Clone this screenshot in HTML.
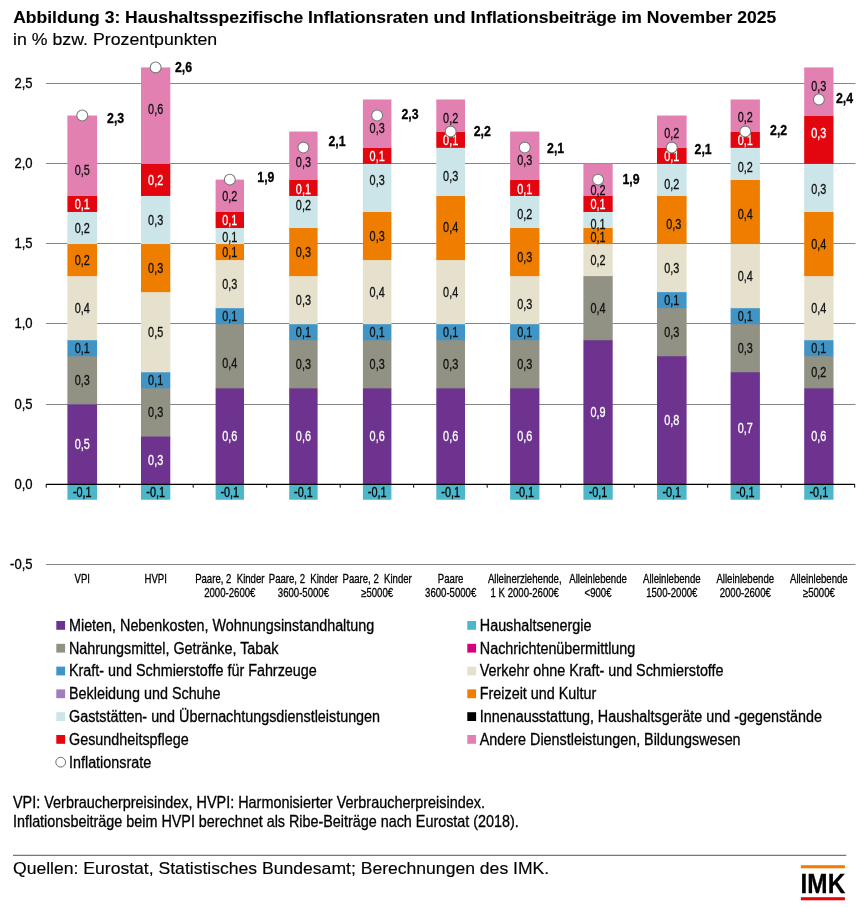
<!DOCTYPE html>
<html lang="de"><head><meta charset="utf-8"><title>Abbildung 3</title>
<style>html,body{margin:0;padding:0;background:#fff}svg{display:block}</style></head>
<body>
<svg width="859" height="907" viewBox="0 0 859 907" font-family="'Liberation Sans', sans-serif">
<rect width="859" height="907" fill="#fff"/>
<text transform="translate(13.20,23.30) scale(1.096,1)" font-size="16" text-anchor="start" font-weight="bold" fill="#000" stroke="#000" stroke-width="0.1">Abbildung 3: Haushaltsspezifische Inflationsraten und Inflationsbeiträge im November 2025</text>
<text transform="translate(13.00,44.60) scale(1.11,1)" font-size="16" text-anchor="start" font-weight="normal" fill="#000" stroke="#000" stroke-width="0.15">in % bzw. Prozentpunkten</text>
<line x1="46" x2="855.5" y1="83.5" y2="83.5" stroke="#868686" stroke-width="1"/>
<line x1="46" x2="855.5" y1="163.5" y2="163.5" stroke="#868686" stroke-width="1"/>
<line x1="46" x2="855.5" y1="243.5" y2="243.5" stroke="#868686" stroke-width="1"/>
<line x1="46" x2="855.5" y1="323.5" y2="323.5" stroke="#868686" stroke-width="1"/>
<line x1="46" x2="855.5" y1="404.5" y2="404.5" stroke="#868686" stroke-width="1"/>
<line x1="46" x2="855.5" y1="564.5" y2="564.5" stroke="#868686" stroke-width="1"/>
<text transform="translate(32.60,87.95) scale(0.92,1)" font-size="14.2" text-anchor="end" font-weight="normal" fill="#000" stroke="#000" stroke-width="0.3">2,5</text>
<text transform="translate(32.60,168.10) scale(0.92,1)" font-size="14.2" text-anchor="end" font-weight="normal" fill="#000" stroke="#000" stroke-width="0.3">2,0</text>
<text transform="translate(32.60,248.25) scale(0.92,1)" font-size="14.2" text-anchor="end" font-weight="normal" fill="#000" stroke="#000" stroke-width="0.3">1,5</text>
<text transform="translate(32.60,328.40) scale(0.92,1)" font-size="14.2" text-anchor="end" font-weight="normal" fill="#000" stroke="#000" stroke-width="0.3">1,0</text>
<text transform="translate(32.60,408.55) scale(0.92,1)" font-size="14.2" text-anchor="end" font-weight="normal" fill="#000" stroke="#000" stroke-width="0.3">0,5</text>
<text transform="translate(32.60,488.70) scale(0.92,1)" font-size="14.2" text-anchor="end" font-weight="normal" fill="#000" stroke="#000" stroke-width="0.3">0,0</text>
<text transform="translate(32.60,568.85) scale(0.92,1)" font-size="14.2" text-anchor="end" font-weight="normal" fill="#000" stroke="#000" stroke-width="0.3">-0,5</text>
<rect x="67.40" y="484.20" width="29.69999999999999" height="15.53" fill="#4cb7cb"/>
<rect x="67.40" y="404.05" width="29.69999999999999" height="80.45" fill="#6d338f"/>
<rect x="67.40" y="355.96" width="29.69999999999999" height="48.39" fill="#919284"/>
<rect x="67.40" y="339.93" width="29.69999999999999" height="16.33" fill="#4095c6"/>
<rect x="67.40" y="275.81" width="29.69999999999999" height="64.42" fill="#e6e1cd"/>
<rect x="67.40" y="243.75" width="29.69999999999999" height="32.36" fill="#ef7d00"/>
<rect x="67.40" y="211.69" width="29.69999999999999" height="32.36" fill="#cbe5e8"/>
<rect x="67.40" y="195.66" width="29.69999999999999" height="16.33" fill="#e4060f"/>
<rect x="67.40" y="115.51" width="29.69999999999999" height="80.45" fill="#e380b2"/>
<rect x="141.00" y="484.20" width="29.30000000000001" height="15.53" fill="#4cb7cb"/>
<rect x="141.00" y="436.11" width="29.30000000000001" height="48.39" fill="#6d338f"/>
<rect x="141.00" y="388.02" width="29.30000000000001" height="48.39" fill="#919284"/>
<rect x="141.00" y="371.99" width="29.30000000000001" height="16.33" fill="#4095c6"/>
<rect x="141.00" y="291.84" width="29.30000000000001" height="80.45" fill="#e6e1cd"/>
<rect x="141.00" y="243.75" width="29.30000000000001" height="48.39" fill="#ef7d00"/>
<rect x="141.00" y="195.66" width="29.30000000000001" height="48.39" fill="#cbe5e8"/>
<rect x="141.00" y="163.60" width="29.30000000000001" height="32.36" fill="#e4060f"/>
<rect x="141.00" y="67.42" width="29.30000000000001" height="96.48" fill="#e380b2"/>
<rect x="215.60" y="484.20" width="28.400000000000006" height="15.53" fill="#4cb7cb"/>
<rect x="215.60" y="388.02" width="28.400000000000006" height="96.48" fill="#6d338f"/>
<rect x="215.60" y="323.90" width="28.400000000000006" height="64.42" fill="#919284"/>
<rect x="215.60" y="307.87" width="28.400000000000006" height="16.33" fill="#4095c6"/>
<rect x="215.60" y="259.78" width="28.400000000000006" height="48.39" fill="#e6e1cd"/>
<rect x="215.60" y="243.75" width="28.400000000000006" height="16.33" fill="#ef7d00"/>
<rect x="215.60" y="227.72" width="28.400000000000006" height="16.33" fill="#cbe5e8"/>
<rect x="215.60" y="211.69" width="28.400000000000006" height="16.33" fill="#e4060f"/>
<rect x="215.60" y="179.63" width="28.400000000000006" height="32.36" fill="#e380b2"/>
<rect x="289.20" y="484.20" width="28.400000000000034" height="15.53" fill="#4cb7cb"/>
<rect x="289.20" y="388.02" width="28.400000000000034" height="96.48" fill="#6d338f"/>
<rect x="289.20" y="339.93" width="28.400000000000034" height="48.39" fill="#919284"/>
<rect x="289.20" y="323.90" width="28.400000000000034" height="16.33" fill="#4095c6"/>
<rect x="289.20" y="275.81" width="28.400000000000034" height="48.39" fill="#e6e1cd"/>
<rect x="289.20" y="227.72" width="28.400000000000034" height="48.39" fill="#ef7d00"/>
<rect x="289.20" y="195.66" width="28.400000000000034" height="32.36" fill="#cbe5e8"/>
<rect x="289.20" y="179.63" width="28.400000000000034" height="16.33" fill="#e4060f"/>
<rect x="289.20" y="131.54" width="28.400000000000034" height="48.39" fill="#e380b2"/>
<rect x="362.90" y="484.20" width="28.5" height="15.53" fill="#4cb7cb"/>
<rect x="362.90" y="388.02" width="28.5" height="96.48" fill="#6d338f"/>
<rect x="362.90" y="339.93" width="28.5" height="48.39" fill="#919284"/>
<rect x="362.90" y="323.90" width="28.5" height="16.33" fill="#4095c6"/>
<rect x="362.90" y="259.78" width="28.5" height="64.42" fill="#e6e1cd"/>
<rect x="362.90" y="211.69" width="28.5" height="48.39" fill="#ef7d00"/>
<rect x="362.90" y="163.60" width="28.5" height="48.39" fill="#cbe5e8"/>
<rect x="362.90" y="147.57" width="28.5" height="16.33" fill="#e4060f"/>
<rect x="362.90" y="99.48" width="28.5" height="48.39" fill="#e380b2"/>
<rect x="436.30" y="484.20" width="28.69999999999999" height="15.53" fill="#4cb7cb"/>
<rect x="436.30" y="388.02" width="28.69999999999999" height="96.48" fill="#6d338f"/>
<rect x="436.30" y="339.93" width="28.69999999999999" height="48.39" fill="#919284"/>
<rect x="436.30" y="323.90" width="28.69999999999999" height="16.33" fill="#4095c6"/>
<rect x="436.30" y="259.78" width="28.69999999999999" height="64.42" fill="#e6e1cd"/>
<rect x="436.30" y="195.66" width="28.69999999999999" height="64.42" fill="#ef7d00"/>
<rect x="436.30" y="147.57" width="28.69999999999999" height="48.39" fill="#cbe5e8"/>
<rect x="436.30" y="131.54" width="28.69999999999999" height="16.33" fill="#e4060f"/>
<rect x="436.30" y="99.48" width="28.69999999999999" height="32.36" fill="#e380b2"/>
<rect x="510.10" y="484.20" width="29.299999999999955" height="15.53" fill="#4cb7cb"/>
<rect x="510.10" y="388.02" width="29.299999999999955" height="96.48" fill="#6d338f"/>
<rect x="510.10" y="339.93" width="29.299999999999955" height="48.39" fill="#919284"/>
<rect x="510.10" y="323.90" width="29.299999999999955" height="16.33" fill="#4095c6"/>
<rect x="510.10" y="275.81" width="29.299999999999955" height="48.39" fill="#e6e1cd"/>
<rect x="510.10" y="227.72" width="29.299999999999955" height="48.39" fill="#ef7d00"/>
<rect x="510.10" y="195.66" width="29.299999999999955" height="32.36" fill="#cbe5e8"/>
<rect x="510.10" y="179.63" width="29.299999999999955" height="16.33" fill="#e4060f"/>
<rect x="510.10" y="131.54" width="29.299999999999955" height="48.39" fill="#e380b2"/>
<rect x="583.40" y="484.20" width="29.300000000000068" height="15.53" fill="#4cb7cb"/>
<rect x="583.40" y="339.93" width="29.300000000000068" height="144.57" fill="#6d338f"/>
<rect x="583.40" y="275.81" width="29.300000000000068" height="64.42" fill="#919284"/>
<rect x="583.40" y="243.75" width="29.300000000000068" height="32.36" fill="#e6e1cd"/>
<rect x="583.40" y="227.72" width="29.300000000000068" height="16.33" fill="#ef7d00"/>
<rect x="583.40" y="211.69" width="29.300000000000068" height="16.33" fill="#cbe5e8"/>
<rect x="583.40" y="195.66" width="29.300000000000068" height="16.33" fill="#e4060f"/>
<rect x="583.40" y="163.60" width="29.300000000000068" height="32.36" fill="#e380b2"/>
<rect x="657.00" y="484.20" width="29.600000000000023" height="15.53" fill="#4cb7cb"/>
<rect x="657.00" y="355.96" width="29.600000000000023" height="128.54" fill="#6d338f"/>
<rect x="657.00" y="307.87" width="29.600000000000023" height="48.39" fill="#919284"/>
<rect x="657.00" y="291.84" width="29.600000000000023" height="16.33" fill="#4095c6"/>
<rect x="657.00" y="243.75" width="29.600000000000023" height="48.39" fill="#e6e1cd"/>
<rect x="657.00" y="195.66" width="29.600000000000023" height="48.39" fill="#ef7d00"/>
<rect x="657.00" y="163.60" width="29.600000000000023" height="32.36" fill="#cbe5e8"/>
<rect x="657.00" y="147.57" width="29.600000000000023" height="16.33" fill="#e4060f"/>
<rect x="657.00" y="115.51" width="29.600000000000023" height="32.36" fill="#e380b2"/>
<rect x="730.60" y="484.20" width="29.299999999999955" height="15.53" fill="#4cb7cb"/>
<rect x="730.60" y="371.99" width="29.299999999999955" height="112.51" fill="#6d338f"/>
<rect x="730.60" y="323.90" width="29.299999999999955" height="48.39" fill="#919284"/>
<rect x="730.60" y="307.87" width="29.299999999999955" height="16.33" fill="#4095c6"/>
<rect x="730.60" y="243.75" width="29.299999999999955" height="64.42" fill="#e6e1cd"/>
<rect x="730.60" y="179.63" width="29.299999999999955" height="64.42" fill="#ef7d00"/>
<rect x="730.60" y="147.57" width="29.299999999999955" height="32.36" fill="#cbe5e8"/>
<rect x="730.60" y="131.54" width="29.299999999999955" height="16.33" fill="#e4060f"/>
<rect x="730.60" y="99.48" width="29.299999999999955" height="32.36" fill="#e380b2"/>
<rect x="804.20" y="484.20" width="29.299999999999955" height="15.53" fill="#4cb7cb"/>
<rect x="804.20" y="388.02" width="29.299999999999955" height="96.48" fill="#6d338f"/>
<rect x="804.20" y="355.96" width="29.299999999999955" height="32.36" fill="#919284"/>
<rect x="804.20" y="339.93" width="29.299999999999955" height="16.33" fill="#4095c6"/>
<rect x="804.20" y="275.81" width="29.299999999999955" height="64.42" fill="#e6e1cd"/>
<rect x="804.20" y="211.69" width="29.299999999999955" height="64.42" fill="#ef7d00"/>
<rect x="804.20" y="163.60" width="29.299999999999955" height="48.39" fill="#cbe5e8"/>
<rect x="804.20" y="115.51" width="29.299999999999955" height="48.39" fill="#e4060f"/>
<rect x="804.20" y="67.42" width="29.299999999999955" height="48.39" fill="#e380b2"/>
<g id="labels">
<text transform="translate(82.25,497.11) scale(0.765,1)" font-size="14.2" text-anchor="middle" font-weight="normal" fill="#000" stroke="#000" stroke-width="0.3">-0,1</text>
<text transform="translate(82.25,449.12) scale(0.765,1)" font-size="14.2" text-anchor="middle" font-weight="normal" fill="#fff" stroke="#fff" stroke-width="0.3">0,5</text>
<text transform="translate(82.25,385.00) scale(0.765,1)" font-size="14.2" text-anchor="middle" font-weight="normal" fill="#111" stroke="#111" stroke-width="0.3">0,3</text>
<text transform="translate(82.25,352.94) scale(0.765,1)" font-size="14.2" text-anchor="middle" font-weight="normal" fill="#111" stroke="#111" stroke-width="0.3">0,1</text>
<text transform="translate(82.25,312.87) scale(0.765,1)" font-size="14.2" text-anchor="middle" font-weight="normal" fill="#111" stroke="#111" stroke-width="0.3">0,4</text>
<text transform="translate(82.25,264.78) scale(0.765,1)" font-size="14.2" text-anchor="middle" font-weight="normal" fill="#111" stroke="#111" stroke-width="0.3">0,2</text>
<text transform="translate(82.25,232.72) scale(0.765,1)" font-size="14.2" text-anchor="middle" font-weight="normal" fill="#111" stroke="#111" stroke-width="0.3">0,2</text>
<text transform="translate(82.25,208.67) scale(0.765,1)" font-size="14.2" text-anchor="middle" font-weight="normal" fill="#fff" stroke="#fff" stroke-width="0.3">0,1</text>
<text transform="translate(82.25,174.60) scale(0.765,1)" font-size="14.2" text-anchor="middle" font-weight="normal" fill="#111" stroke="#111" stroke-width="0.3">0,5</text>
<text transform="translate(155.65,497.11) scale(0.765,1)" font-size="14.2" text-anchor="middle" font-weight="normal" fill="#000" stroke="#000" stroke-width="0.3">-0,1</text>
<text transform="translate(155.65,465.15) scale(0.765,1)" font-size="14.2" text-anchor="middle" font-weight="normal" fill="#fff" stroke="#fff" stroke-width="0.3">0,3</text>
<text transform="translate(155.65,417.06) scale(0.765,1)" font-size="14.2" text-anchor="middle" font-weight="normal" fill="#111" stroke="#111" stroke-width="0.3">0,3</text>
<text transform="translate(155.65,385.00) scale(0.765,1)" font-size="14.2" text-anchor="middle" font-weight="normal" fill="#111" stroke="#111" stroke-width="0.3">0,1</text>
<text transform="translate(155.65,336.91) scale(0.765,1)" font-size="14.2" text-anchor="middle" font-weight="normal" fill="#111" stroke="#111" stroke-width="0.3">0,5</text>
<text transform="translate(155.65,272.79) scale(0.765,1)" font-size="14.2" text-anchor="middle" font-weight="normal" fill="#111" stroke="#111" stroke-width="0.3">0,3</text>
<text transform="translate(155.65,224.70) scale(0.765,1)" font-size="14.2" text-anchor="middle" font-weight="normal" fill="#111" stroke="#111" stroke-width="0.3">0,3</text>
<text transform="translate(155.65,184.63) scale(0.765,1)" font-size="14.2" text-anchor="middle" font-weight="normal" fill="#fff" stroke="#fff" stroke-width="0.3">0,2</text>
<text transform="translate(155.65,114.30) scale(0.765,1)" font-size="14.2" text-anchor="middle" font-weight="normal" fill="#111" stroke="#111" stroke-width="0.3">0,6</text>
<text transform="translate(229.80,497.11) scale(0.765,1)" font-size="14.2" text-anchor="middle" font-weight="normal" fill="#000" stroke="#000" stroke-width="0.3">-0,1</text>
<text transform="translate(229.80,441.11) scale(0.765,1)" font-size="14.2" text-anchor="middle" font-weight="normal" fill="#fff" stroke="#fff" stroke-width="0.3">0,6</text>
<text transform="translate(229.80,367.60) scale(0.765,1)" font-size="14.2" text-anchor="middle" font-weight="normal" fill="#111" stroke="#111" stroke-width="0.3">0,4</text>
<text transform="translate(229.80,320.88) scale(0.765,1)" font-size="14.2" text-anchor="middle" font-weight="normal" fill="#111" stroke="#111" stroke-width="0.3">0,1</text>
<text transform="translate(229.80,288.82) scale(0.765,1)" font-size="14.2" text-anchor="middle" font-weight="normal" fill="#111" stroke="#111" stroke-width="0.3">0,3</text>
<text transform="translate(229.80,256.76) scale(0.765,1)" font-size="14.2" text-anchor="middle" font-weight="normal" fill="#111" stroke="#111" stroke-width="0.3">0,1</text>
<text transform="translate(229.80,242.00) scale(0.765,1)" font-size="14.2" text-anchor="middle" font-weight="normal" fill="#111" stroke="#111" stroke-width="0.3">0,1</text>
<text transform="translate(229.80,224.70) scale(0.765,1)" font-size="14.2" text-anchor="middle" font-weight="normal" fill="#fff" stroke="#fff" stroke-width="0.3">0,1</text>
<text transform="translate(229.80,200.66) scale(0.765,1)" font-size="14.2" text-anchor="middle" font-weight="normal" fill="#111" stroke="#111" stroke-width="0.3">0,2</text>
<text transform="translate(303.40,497.11) scale(0.765,1)" font-size="14.2" text-anchor="middle" font-weight="normal" fill="#000" stroke="#000" stroke-width="0.3">-0,1</text>
<text transform="translate(303.40,441.11) scale(0.765,1)" font-size="14.2" text-anchor="middle" font-weight="normal" fill="#fff" stroke="#fff" stroke-width="0.3">0,6</text>
<text transform="translate(303.40,368.97) scale(0.765,1)" font-size="14.2" text-anchor="middle" font-weight="normal" fill="#111" stroke="#111" stroke-width="0.3">0,3</text>
<text transform="translate(303.40,336.91) scale(0.765,1)" font-size="14.2" text-anchor="middle" font-weight="normal" fill="#111" stroke="#111" stroke-width="0.3">0,1</text>
<text transform="translate(303.40,304.86) scale(0.765,1)" font-size="14.2" text-anchor="middle" font-weight="normal" fill="#111" stroke="#111" stroke-width="0.3">0,3</text>
<text transform="translate(303.40,256.76) scale(0.765,1)" font-size="14.2" text-anchor="middle" font-weight="normal" fill="#111" stroke="#111" stroke-width="0.3">0,3</text>
<text transform="translate(303.40,209.70) scale(0.765,1)" font-size="14.2" text-anchor="middle" font-weight="normal" fill="#111" stroke="#111" stroke-width="0.3">0,2</text>
<text transform="translate(303.40,193.90) scale(0.765,1)" font-size="14.2" text-anchor="middle" font-weight="normal" fill="#fff" stroke="#fff" stroke-width="0.3">0,1</text>
<text transform="translate(303.40,167.10) scale(0.765,1)" font-size="14.2" text-anchor="middle" font-weight="normal" fill="#111" stroke="#111" stroke-width="0.3">0,3</text>
<text transform="translate(377.15,497.11) scale(0.765,1)" font-size="14.2" text-anchor="middle" font-weight="normal" fill="#000" stroke="#000" stroke-width="0.3">-0,1</text>
<text transform="translate(377.15,441.11) scale(0.765,1)" font-size="14.2" text-anchor="middle" font-weight="normal" fill="#fff" stroke="#fff" stroke-width="0.3">0,6</text>
<text transform="translate(377.15,368.97) scale(0.765,1)" font-size="14.2" text-anchor="middle" font-weight="normal" fill="#111" stroke="#111" stroke-width="0.3">0,3</text>
<text transform="translate(377.15,336.91) scale(0.765,1)" font-size="14.2" text-anchor="middle" font-weight="normal" fill="#111" stroke="#111" stroke-width="0.3">0,1</text>
<text transform="translate(377.15,296.84) scale(0.765,1)" font-size="14.2" text-anchor="middle" font-weight="normal" fill="#111" stroke="#111" stroke-width="0.3">0,4</text>
<text transform="translate(377.15,240.74) scale(0.765,1)" font-size="14.2" text-anchor="middle" font-weight="normal" fill="#111" stroke="#111" stroke-width="0.3">0,3</text>
<text transform="translate(377.15,185.20) scale(0.765,1)" font-size="14.2" text-anchor="middle" font-weight="normal" fill="#111" stroke="#111" stroke-width="0.3">0,3</text>
<text transform="translate(377.15,160.58) scale(0.765,1)" font-size="14.2" text-anchor="middle" font-weight="normal" fill="#fff" stroke="#fff" stroke-width="0.3">0,1</text>
<text transform="translate(377.15,133.10) scale(0.765,1)" font-size="14.2" text-anchor="middle" font-weight="normal" fill="#111" stroke="#111" stroke-width="0.3">0,3</text>
<text transform="translate(450.65,497.11) scale(0.765,1)" font-size="14.2" text-anchor="middle" font-weight="normal" fill="#000" stroke="#000" stroke-width="0.3">-0,1</text>
<text transform="translate(450.65,441.11) scale(0.765,1)" font-size="14.2" text-anchor="middle" font-weight="normal" fill="#fff" stroke="#fff" stroke-width="0.3">0,6</text>
<text transform="translate(450.65,368.97) scale(0.765,1)" font-size="14.2" text-anchor="middle" font-weight="normal" fill="#111" stroke="#111" stroke-width="0.3">0,3</text>
<text transform="translate(450.65,336.91) scale(0.765,1)" font-size="14.2" text-anchor="middle" font-weight="normal" fill="#111" stroke="#111" stroke-width="0.3">0,1</text>
<text transform="translate(450.65,296.84) scale(0.765,1)" font-size="14.2" text-anchor="middle" font-weight="normal" fill="#111" stroke="#111" stroke-width="0.3">0,4</text>
<text transform="translate(450.65,231.50) scale(0.765,1)" font-size="14.2" text-anchor="middle" font-weight="normal" fill="#111" stroke="#111" stroke-width="0.3">0,4</text>
<text transform="translate(450.65,180.60) scale(0.765,1)" font-size="14.2" text-anchor="middle" font-weight="normal" fill="#111" stroke="#111" stroke-width="0.3">0,3</text>
<text transform="translate(450.65,144.56) scale(0.765,1)" font-size="14.2" text-anchor="middle" font-weight="normal" fill="#fff" stroke="#fff" stroke-width="0.3">0,1</text>
<text transform="translate(450.65,122.60) scale(0.765,1)" font-size="14.2" text-anchor="middle" font-weight="normal" fill="#111" stroke="#111" stroke-width="0.3">0,2</text>
<text transform="translate(524.75,497.11) scale(0.765,1)" font-size="14.2" text-anchor="middle" font-weight="normal" fill="#000" stroke="#000" stroke-width="0.3">-0,1</text>
<text transform="translate(524.75,441.11) scale(0.765,1)" font-size="14.2" text-anchor="middle" font-weight="normal" fill="#fff" stroke="#fff" stroke-width="0.3">0,6</text>
<text transform="translate(524.75,368.97) scale(0.765,1)" font-size="14.2" text-anchor="middle" font-weight="normal" fill="#111" stroke="#111" stroke-width="0.3">0,3</text>
<text transform="translate(524.75,336.91) scale(0.765,1)" font-size="14.2" text-anchor="middle" font-weight="normal" fill="#111" stroke="#111" stroke-width="0.3">0,1</text>
<text transform="translate(524.75,308.80) scale(0.765,1)" font-size="14.2" text-anchor="middle" font-weight="normal" fill="#111" stroke="#111" stroke-width="0.3">0,3</text>
<text transform="translate(524.75,262.20) scale(0.765,1)" font-size="14.2" text-anchor="middle" font-weight="normal" fill="#111" stroke="#111" stroke-width="0.3">0,3</text>
<text transform="translate(524.75,218.90) scale(0.765,1)" font-size="14.2" text-anchor="middle" font-weight="normal" fill="#111" stroke="#111" stroke-width="0.3">0,2</text>
<text transform="translate(524.75,193.90) scale(0.765,1)" font-size="14.2" text-anchor="middle" font-weight="normal" fill="#fff" stroke="#fff" stroke-width="0.3">0,1</text>
<text transform="translate(524.75,164.60) scale(0.765,1)" font-size="14.2" text-anchor="middle" font-weight="normal" fill="#111" stroke="#111" stroke-width="0.3">0,3</text>
<text transform="translate(598.05,497.11) scale(0.765,1)" font-size="14.2" text-anchor="middle" font-weight="normal" fill="#000" stroke="#000" stroke-width="0.3">-0,1</text>
<text transform="translate(598.05,417.06) scale(0.765,1)" font-size="14.2" text-anchor="middle" font-weight="normal" fill="#fff" stroke="#fff" stroke-width="0.3">0,9</text>
<text transform="translate(598.05,312.87) scale(0.765,1)" font-size="14.2" text-anchor="middle" font-weight="normal" fill="#111" stroke="#111" stroke-width="0.3">0,4</text>
<text transform="translate(598.05,264.78) scale(0.765,1)" font-size="14.2" text-anchor="middle" font-weight="normal" fill="#111" stroke="#111" stroke-width="0.3">0,2</text>
<text transform="translate(598.05,242.00) scale(0.765,1)" font-size="14.2" text-anchor="middle" font-weight="normal" fill="#111" stroke="#111" stroke-width="0.3">0,1</text>
<text transform="translate(598.05,229.00) scale(0.765,1)" font-size="14.2" text-anchor="middle" font-weight="normal" fill="#111" stroke="#111" stroke-width="0.3">0,1</text>
<text transform="translate(598.05,208.67) scale(0.765,1)" font-size="14.2" text-anchor="middle" font-weight="normal" fill="#fff" stroke="#fff" stroke-width="0.3">0,1</text>
<text transform="translate(598.05,195.20) scale(0.765,1)" font-size="14.2" text-anchor="middle" font-weight="normal" fill="#111" stroke="#111" stroke-width="0.3">0,2</text>
<text transform="translate(671.80,497.11) scale(0.765,1)" font-size="14.2" text-anchor="middle" font-weight="normal" fill="#000" stroke="#000" stroke-width="0.3">-0,1</text>
<text transform="translate(671.80,425.08) scale(0.765,1)" font-size="14.2" text-anchor="middle" font-weight="normal" fill="#fff" stroke="#fff" stroke-width="0.3">0,8</text>
<text transform="translate(671.80,336.91) scale(0.765,1)" font-size="14.2" text-anchor="middle" font-weight="normal" fill="#111" stroke="#111" stroke-width="0.3">0,3</text>
<text transform="translate(671.80,304.85) scale(0.765,1)" font-size="14.2" text-anchor="middle" font-weight="normal" fill="#111" stroke="#111" stroke-width="0.3">0,1</text>
<text transform="translate(671.80,272.79) scale(0.765,1)" font-size="14.2" text-anchor="middle" font-weight="normal" fill="#111" stroke="#111" stroke-width="0.3">0,3</text>
<text transform="translate(673.80,229.00) scale(0.765,1)" font-size="14.2" text-anchor="middle" font-weight="normal" fill="#111" stroke="#111" stroke-width="0.3">0,3</text>
<text transform="translate(671.80,188.90) scale(0.765,1)" font-size="14.2" text-anchor="middle" font-weight="normal" fill="#111" stroke="#111" stroke-width="0.3">0,2</text>
<text transform="translate(671.80,160.58) scale(0.765,1)" font-size="14.2" text-anchor="middle" font-weight="normal" fill="#fff" stroke="#fff" stroke-width="0.3">0,1</text>
<text transform="translate(671.80,137.60) scale(0.765,1)" font-size="14.2" text-anchor="middle" font-weight="normal" fill="#111" stroke="#111" stroke-width="0.3">0,2</text>
<text transform="translate(745.25,497.11) scale(0.765,1)" font-size="14.2" text-anchor="middle" font-weight="normal" fill="#000" stroke="#000" stroke-width="0.3">-0,1</text>
<text transform="translate(745.25,433.09) scale(0.765,1)" font-size="14.2" text-anchor="middle" font-weight="normal" fill="#fff" stroke="#fff" stroke-width="0.3">0,7</text>
<text transform="translate(745.25,352.94) scale(0.765,1)" font-size="14.2" text-anchor="middle" font-weight="normal" fill="#111" stroke="#111" stroke-width="0.3">0,3</text>
<text transform="translate(745.25,320.88) scale(0.765,1)" font-size="14.2" text-anchor="middle" font-weight="normal" fill="#111" stroke="#111" stroke-width="0.3">0,1</text>
<text transform="translate(745.25,280.81) scale(0.765,1)" font-size="14.2" text-anchor="middle" font-weight="normal" fill="#111" stroke="#111" stroke-width="0.3">0,4</text>
<text transform="translate(745.25,219.40) scale(0.765,1)" font-size="14.2" text-anchor="middle" font-weight="normal" fill="#111" stroke="#111" stroke-width="0.3">0,4</text>
<text transform="translate(745.25,172.10) scale(0.765,1)" font-size="14.2" text-anchor="middle" font-weight="normal" fill="#111" stroke="#111" stroke-width="0.3">0,2</text>
<text transform="translate(745.25,144.56) scale(0.765,1)" font-size="14.2" text-anchor="middle" font-weight="normal" fill="#fff" stroke="#fff" stroke-width="0.3">0,1</text>
<text transform="translate(745.25,122.10) scale(0.765,1)" font-size="14.2" text-anchor="middle" font-weight="normal" fill="#111" stroke="#111" stroke-width="0.3">0,2</text>
<text transform="translate(818.85,497.11) scale(0.765,1)" font-size="14.2" text-anchor="middle" font-weight="normal" fill="#000" stroke="#000" stroke-width="0.3">-0,1</text>
<text transform="translate(818.85,441.11) scale(0.765,1)" font-size="14.2" text-anchor="middle" font-weight="normal" fill="#fff" stroke="#fff" stroke-width="0.3">0,6</text>
<text transform="translate(818.85,376.99) scale(0.765,1)" font-size="14.2" text-anchor="middle" font-weight="normal" fill="#111" stroke="#111" stroke-width="0.3">0,2</text>
<text transform="translate(818.85,352.94) scale(0.765,1)" font-size="14.2" text-anchor="middle" font-weight="normal" fill="#111" stroke="#111" stroke-width="0.3">0,1</text>
<text transform="translate(818.85,312.87) scale(0.765,1)" font-size="14.2" text-anchor="middle" font-weight="normal" fill="#111" stroke="#111" stroke-width="0.3">0,4</text>
<text transform="translate(818.85,248.75) scale(0.765,1)" font-size="14.2" text-anchor="middle" font-weight="normal" fill="#111" stroke="#111" stroke-width="0.3">0,4</text>
<text transform="translate(818.85,193.90) scale(0.765,1)" font-size="14.2" text-anchor="middle" font-weight="normal" fill="#111" stroke="#111" stroke-width="0.3">0,3</text>
<text transform="translate(818.85,137.60) scale(0.765,1)" font-size="14.2" text-anchor="middle" font-weight="normal" fill="#fff" stroke="#fff" stroke-width="0.3">0,3</text>
<text transform="translate(818.85,91.30) scale(0.765,1)" font-size="14.2" text-anchor="middle" font-weight="normal" fill="#111" stroke="#111" stroke-width="0.3">0,3</text>
</g>
<line x1="46.2" x2="854.70" y1="484.4" y2="484.4" stroke="#000" stroke-width="1.15"/>
<line x1="46.20" x2="46.20" y1="484.2" y2="487.7" stroke="#000" stroke-width="1"/>
<line x1="119.70" x2="119.70" y1="484.2" y2="487.7" stroke="#000" stroke-width="1"/>
<line x1="193.20" x2="193.20" y1="484.2" y2="487.7" stroke="#000" stroke-width="1"/>
<line x1="266.70" x2="266.70" y1="484.2" y2="487.7" stroke="#000" stroke-width="1"/>
<line x1="340.20" x2="340.20" y1="484.2" y2="487.7" stroke="#000" stroke-width="1"/>
<line x1="413.70" x2="413.70" y1="484.2" y2="487.7" stroke="#000" stroke-width="1"/>
<line x1="487.20" x2="487.20" y1="484.2" y2="487.7" stroke="#000" stroke-width="1"/>
<line x1="560.70" x2="560.70" y1="484.2" y2="487.7" stroke="#000" stroke-width="1"/>
<line x1="634.20" x2="634.20" y1="484.2" y2="487.7" stroke="#000" stroke-width="1"/>
<line x1="707.70" x2="707.70" y1="484.2" y2="487.7" stroke="#000" stroke-width="1"/>
<line x1="781.20" x2="781.20" y1="484.2" y2="487.7" stroke="#000" stroke-width="1"/>
<line x1="854.70" x2="854.70" y1="484.2" y2="487.7" stroke="#000" stroke-width="1"/>
<circle cx="82.25" cy="115.51" r="5.45" fill="#fff" stroke="#7a7a7a" stroke-width="1.1"/>
<text transform="translate(107.10,123.30) scale(0.88,1)" font-size="14" text-anchor="start" font-weight="bold" fill="#000" stroke="#000" stroke-width="0.3">2,3</text>
<circle cx="155.65" cy="67.42" r="5.45" fill="#fff" stroke="#7a7a7a" stroke-width="1.1"/>
<text transform="translate(174.90,72.15) scale(0.88,1)" font-size="14" text-anchor="start" font-weight="bold" fill="#000" stroke="#000" stroke-width="0.3">2,6</text>
<circle cx="229.80" cy="179.63" r="5.45" fill="#fff" stroke="#7a7a7a" stroke-width="1.1"/>
<text transform="translate(257.30,181.50) scale(0.88,1)" font-size="14" text-anchor="start" font-weight="bold" fill="#000" stroke="#000" stroke-width="0.3">1,9</text>
<circle cx="303.40" cy="147.57" r="5.45" fill="#fff" stroke="#7a7a7a" stroke-width="1.1"/>
<text transform="translate(328.50,145.50) scale(0.88,1)" font-size="14" text-anchor="start" font-weight="bold" fill="#000" stroke="#000" stroke-width="0.3">2,1</text>
<circle cx="377.15" cy="115.51" r="5.45" fill="#fff" stroke="#7a7a7a" stroke-width="1.1"/>
<text transform="translate(401.40,119.00) scale(0.88,1)" font-size="14" text-anchor="start" font-weight="bold" fill="#000" stroke="#000" stroke-width="0.3">2,3</text>
<circle cx="450.65" cy="131.54" r="5.45" fill="#fff" stroke="#7a7a7a" stroke-width="1.1"/>
<text transform="translate(473.70,135.95) scale(0.88,1)" font-size="14" text-anchor="start" font-weight="bold" fill="#000" stroke="#000" stroke-width="0.3">2,2</text>
<circle cx="524.75" cy="147.57" r="5.45" fill="#fff" stroke="#7a7a7a" stroke-width="1.1"/>
<text transform="translate(547.10,152.50) scale(0.88,1)" font-size="14" text-anchor="start" font-weight="bold" fill="#000" stroke="#000" stroke-width="0.3">2,1</text>
<circle cx="598.05" cy="179.63" r="5.45" fill="#fff" stroke="#7a7a7a" stroke-width="1.1"/>
<text transform="translate(622.50,184.30) scale(0.88,1)" font-size="14" text-anchor="start" font-weight="bold" fill="#000" stroke="#000" stroke-width="0.3">1,9</text>
<circle cx="671.80" cy="147.57" r="5.45" fill="#fff" stroke="#7a7a7a" stroke-width="1.1"/>
<text transform="translate(694.60,153.65) scale(0.88,1)" font-size="14" text-anchor="start" font-weight="bold" fill="#000" stroke="#000" stroke-width="0.3">2,1</text>
<circle cx="745.25" cy="131.54" r="5.45" fill="#fff" stroke="#7a7a7a" stroke-width="1.1"/>
<text transform="translate(770.10,134.80) scale(0.88,1)" font-size="14" text-anchor="start" font-weight="bold" fill="#000" stroke="#000" stroke-width="0.3">2,2</text>
<circle cx="818.85" cy="99.48" r="5.45" fill="#fff" stroke="#7a7a7a" stroke-width="1.1"/>
<text transform="translate(835.90,102.90) scale(0.88,1)" font-size="14" text-anchor="start" font-weight="bold" fill="#000" stroke="#000" stroke-width="0.3">2,4</text>
<text transform="translate(82.25,583.40) scale(0.8,1)" font-size="12" text-anchor="middle" font-weight="normal" fill="#000" xml:space="preserve" style="white-space:pre" stroke="#000" stroke-width="0.3">VPI</text>
<text transform="translate(155.65,583.40) scale(0.8,1)" font-size="12" text-anchor="middle" font-weight="normal" fill="#000" xml:space="preserve" style="white-space:pre" stroke="#000" stroke-width="0.3">HVPI</text>
<text transform="translate(229.80,583.40) scale(0.8,1)" font-size="12" text-anchor="middle" font-weight="normal" fill="#000" xml:space="preserve" style="white-space:pre" stroke="#000" stroke-width="0.3">Paare, 2  Kinder</text>
<text transform="translate(229.80,597.40) scale(0.8,1)" font-size="12" text-anchor="middle" font-weight="normal" fill="#000" xml:space="preserve" style="white-space:pre" stroke="#000" stroke-width="0.3">2000-2600€</text>
<text transform="translate(303.40,583.40) scale(0.8,1)" font-size="12" text-anchor="middle" font-weight="normal" fill="#000" xml:space="preserve" style="white-space:pre" stroke="#000" stroke-width="0.3">Paare, 2  Kinder</text>
<text transform="translate(303.40,597.40) scale(0.8,1)" font-size="12" text-anchor="middle" font-weight="normal" fill="#000" xml:space="preserve" style="white-space:pre" stroke="#000" stroke-width="0.3">3600-5000€</text>
<text transform="translate(377.15,583.40) scale(0.8,1)" font-size="12" text-anchor="middle" font-weight="normal" fill="#000" xml:space="preserve" style="white-space:pre" stroke="#000" stroke-width="0.3">Paare, 2  Kinder</text>
<text transform="translate(377.15,597.40) scale(0.8,1)" font-size="12" text-anchor="middle" font-weight="normal" fill="#000" xml:space="preserve" style="white-space:pre" stroke="#000" stroke-width="0.3">≥5000€</text>
<text transform="translate(450.65,583.40) scale(0.8,1)" font-size="12" text-anchor="middle" font-weight="normal" fill="#000" xml:space="preserve" style="white-space:pre" stroke="#000" stroke-width="0.3">Paare</text>
<text transform="translate(450.65,597.40) scale(0.8,1)" font-size="12" text-anchor="middle" font-weight="normal" fill="#000" xml:space="preserve" style="white-space:pre" stroke="#000" stroke-width="0.3">3600-5000€</text>
<text transform="translate(524.75,583.40) scale(0.8,1)" font-size="12" text-anchor="middle" font-weight="normal" fill="#000" xml:space="preserve" style="white-space:pre" stroke="#000" stroke-width="0.3">Alleinerziehende,</text>
<text transform="translate(524.75,597.40) scale(0.8,1)" font-size="12" text-anchor="middle" font-weight="normal" fill="#000" xml:space="preserve" style="white-space:pre" stroke="#000" stroke-width="0.3">1 K 2000-2600€</text>
<text transform="translate(598.05,583.40) scale(0.8,1)" font-size="12" text-anchor="middle" font-weight="normal" fill="#000" xml:space="preserve" style="white-space:pre" stroke="#000" stroke-width="0.3">Alleinlebende</text>
<text transform="translate(598.05,597.40) scale(0.8,1)" font-size="12" text-anchor="middle" font-weight="normal" fill="#000" xml:space="preserve" style="white-space:pre" stroke="#000" stroke-width="0.3">&lt;900€</text>
<text transform="translate(671.80,583.40) scale(0.8,1)" font-size="12" text-anchor="middle" font-weight="normal" fill="#000" xml:space="preserve" style="white-space:pre" stroke="#000" stroke-width="0.3">Alleinlebende</text>
<text transform="translate(671.80,597.40) scale(0.8,1)" font-size="12" text-anchor="middle" font-weight="normal" fill="#000" xml:space="preserve" style="white-space:pre" stroke="#000" stroke-width="0.3">1500-2000€</text>
<text transform="translate(745.25,583.40) scale(0.8,1)" font-size="12" text-anchor="middle" font-weight="normal" fill="#000" xml:space="preserve" style="white-space:pre" stroke="#000" stroke-width="0.3">Alleinlebende</text>
<text transform="translate(745.25,597.40) scale(0.8,1)" font-size="12" text-anchor="middle" font-weight="normal" fill="#000" xml:space="preserve" style="white-space:pre" stroke="#000" stroke-width="0.3">2000-2600€</text>
<text transform="translate(818.85,583.40) scale(0.8,1)" font-size="12" text-anchor="middle" font-weight="normal" fill="#000" xml:space="preserve" style="white-space:pre" stroke="#000" stroke-width="0.3">Alleinlebende</text>
<text transform="translate(818.85,597.40) scale(0.8,1)" font-size="12" text-anchor="middle" font-weight="normal" fill="#000" xml:space="preserve" style="white-space:pre" stroke="#000" stroke-width="0.3">≥5000€</text>
<rect x="56.3" y="621.00" width="8.8" height="8.8" fill="#6d338f"/>
<text transform="translate(69.00,630.80) scale(0.8976,1)" font-size="16" text-anchor="start" font-weight="normal" fill="#000" stroke="#000" stroke-width="0.3">Mieten, Nebenkosten, Wohnungsinstandhaltung</text>
<rect x="56.3" y="643.80" width="8.8" height="8.8" fill="#919284"/>
<text transform="translate(69.00,653.60) scale(0.8976,1)" font-size="16" text-anchor="start" font-weight="normal" fill="#000" stroke="#000" stroke-width="0.3">Nahrungsmittel, Getränke, Tabak</text>
<rect x="56.3" y="666.60" width="8.8" height="8.8" fill="#4095c6"/>
<text transform="translate(69.00,676.40) scale(0.8976,1)" font-size="16" text-anchor="start" font-weight="normal" fill="#000" stroke="#000" stroke-width="0.3">Kraft- und Schmierstoffe für Fahrzeuge</text>
<rect x="56.3" y="689.40" width="8.8" height="8.8" fill="#a27cbc"/>
<text transform="translate(69.00,699.20) scale(0.8976,1)" font-size="16" text-anchor="start" font-weight="normal" fill="#000" stroke="#000" stroke-width="0.3">Bekleidung und Schuhe</text>
<rect x="56.3" y="712.20" width="8.8" height="8.8" fill="#cbe5e8"/>
<text transform="translate(69.00,722.00) scale(0.8976,1)" font-size="16" text-anchor="start" font-weight="normal" fill="#000" stroke="#000" stroke-width="0.3">Gaststätten- und Übernachtungsdienstleistungen</text>
<rect x="56.3" y="735.00" width="8.8" height="8.8" fill="#e4060f"/>
<text transform="translate(69.00,744.80) scale(0.8976,1)" font-size="16" text-anchor="start" font-weight="normal" fill="#000" stroke="#000" stroke-width="0.3">Gesundheitspflege</text>
<rect x="467.3" y="621.00" width="8.8" height="8.8" fill="#4cb7cb"/>
<text transform="translate(479.80,630.80) scale(0.8976,1)" font-size="16" text-anchor="start" font-weight="normal" fill="#000" stroke="#000" stroke-width="0.3">Haushaltsenergie</text>
<rect x="467.3" y="643.80" width="8.8" height="8.8" fill="#d6007f"/>
<text transform="translate(479.80,653.60) scale(0.8976,1)" font-size="16" text-anchor="start" font-weight="normal" fill="#000" stroke="#000" stroke-width="0.3">Nachrichtenübermittlung</text>
<rect x="467.3" y="666.60" width="8.8" height="8.8" fill="#e6e1cd"/>
<text transform="translate(479.80,676.40) scale(0.8976,1)" font-size="16" text-anchor="start" font-weight="normal" fill="#000" stroke="#000" stroke-width="0.3">Verkehr ohne Kraft- und Schmierstoffe</text>
<rect x="467.3" y="689.40" width="8.8" height="8.8" fill="#ef7d00"/>
<text transform="translate(479.80,699.20) scale(0.8976,1)" font-size="16" text-anchor="start" font-weight="normal" fill="#000" stroke="#000" stroke-width="0.3">Freizeit und Kultur</text>
<rect x="467.3" y="712.20" width="8.8" height="8.8" fill="#000000"/>
<text transform="translate(479.80,722.00) scale(0.8976,1)" font-size="16" text-anchor="start" font-weight="normal" fill="#000" stroke="#000" stroke-width="0.3">Innenausstattung, Haushaltsgeräte und -gegenstände</text>
<rect x="467.3" y="735.00" width="8.8" height="8.8" fill="#e380b2"/>
<text transform="translate(479.80,744.80) scale(0.8976,1)" font-size="16" text-anchor="start" font-weight="normal" fill="#000" stroke="#000" stroke-width="0.3">Andere Dienstleistungen, Bildungswesen</text>
<circle cx="60.7" cy="762.20" r="4.9" fill="#fff" stroke="#6e6e6e" stroke-width="1"/>
<text transform="translate(69.00,767.60) scale(0.8976,1)" font-size="16" text-anchor="start" font-weight="normal" fill="#000" stroke="#000" stroke-width="0.3">Inflationsrate</text>
<text transform="translate(13.00,807.80) scale(0.902,1)" font-size="16" text-anchor="start" font-weight="normal" fill="#000" stroke="#000" stroke-width="0.3">VPI: Verbraucherpreisindex, HVPI: Harmonisierter Verbraucherpreisindex.</text>
<text transform="translate(13.00,826.70) scale(0.898,1)" font-size="16" text-anchor="start" font-weight="normal" fill="#000" stroke="#000" stroke-width="0.3">Inflationsbeiträge beim HVPI berechnet als Ribe-Beiträge nach Eurostat (2018).</text>
<line x1="13" x2="846.2" y1="855.3" y2="855.3" stroke="#77776a" stroke-width="1.2"/>
<text transform="translate(13.00,873.70) scale(1.099,1)" font-size="16" text-anchor="start" font-weight="normal" fill="#000" stroke="#000" stroke-width="0.15">Quellen: Eurostat, Statistisches Bundesamt; Berechnungen des IMK.</text>
<rect x="800.9" y="865.2" width="44" height="3.1" fill="#ef7d00"/>
<rect x="800.9" y="897.2" width="44" height="3.1" fill="#e4060f"/>
<text transform="translate(822.90,892.80) scale(0.885,1)" font-size="27.5" text-anchor="middle" font-weight="bold" fill="#000" stroke="#000" stroke-width="0.3">IMK</text>
</svg>
</body></html>
